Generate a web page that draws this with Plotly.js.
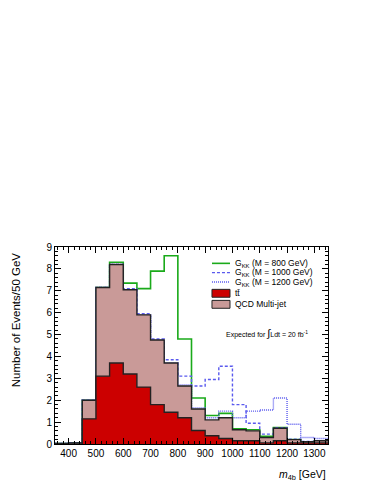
<!DOCTYPE html>
<html>
<head>
<meta charset="utf-8">
<script src="https://cdn.plot.ly/plotly-3.0.1.min.js"></script>
<style>
  html, body { margin: 0; padding: 0; background: #fff; }
  #plot { width: 374px; height: 484px; }
</style>
</head>
<body>
<div id="plot"></div>
<script>
// bin edges, 50 GeV wide
var binEdges = [350, 400, 450, 500, 550, 600, 650, 700, 750, 800, 850, 900, 950, 1000, 1050, 1100, 1150, 1200, 1250, 1300, 1350];

// ttbar (bottom of the stack)
var ttbar = [0, 0, 1.15, 3.1, 3.7, 3.2, 2.6, 1.8, 1.45, 1.2, 0.62, 0.38, 0.25, 0.15, 0.15, 0.05, 0.15, 0.05, 0.05, 0.05];
// total background = ttbar + QCD multi-jet
var totalBkg = [0.02, 0.05, 2.0, 7.15, 8.2, 7.05, 5.9, 4.75, 3.7, 2.65, 1.6, 1.1, 1.2, 0.65, 0.6, 0.3, 0.72, 0.2, 0.1, 0.15];

// signal + background
var gkk800 = [0.02, 0.05, 2.0, 7.15, 8.3, 7.35, 7.1, 7.9, 8.6, 4.8, 2.1, 1.3, 1.4, 0.7, 0.65, 0.35, 0.75, 0.2, 0.1, 0.15];
var gkk1000 = [0.02, 0.05, 2.0, 7.15, 8.2, 7.1, 5.95, 4.8, 3.85, 3.1, 2.65, 2.95, 3.55, 1.8, 0.95, 0.45, 0.75, 0.22, 0.12, 0.15];
var gkk1200 = [0.02, 0.05, 2.0, 7.15, 8.2, 7.05, 5.9, 4.75, 3.7, 2.7, 1.65, 1.2, 1.5, 1.2, 1.5, 1.55, 2.1, 0.9, 0.3, 0.25];

var legendNames = ["G<sub>KK</sub> (M = 800 GeV)", "G<sub>KK</sub> (M = 1000 GeV)", "G<sub>KK</sub> (M = 1200 GeV)", "t\u0074\u0304", "QCD Multi-jet"];

function stepY(vals) { return vals.concat([vals[vals.length - 1]]); }

var fnt = "Liberation Sans, Arial, sans-serif";
var green = "#1aaa1a", blue = "#5a5aee", red = "#cc0000", pink = "#c99a98";

var data = [
  {x: binEdges, y: stepY(gkk800), type: "scatter", mode: "lines", line: {shape: "hv", color: green, width: 1.6}, name: legendNames[0]},
  {x: binEdges, y: stepY(gkk1000), type: "scatter", mode: "lines", line: {shape: "hv", color: blue, width: 1.4, dash: "3px,2px"}, name: legendNames[1]},
  {x: binEdges, y: stepY(gkk1200), type: "scatter", mode: "lines", line: {shape: "hv", color: blue, width: 1.4, dash: "1px,1px"}, name: legendNames[2]},
  {x: binEdges, y: stepY(totalBkg), type: "scatter", mode: "lines", line: {shape: "hv", color: "#222", width: 1.4},
   fill: "tozeroy", fillcolor: pink, name: legendNames[4]},
  {x: binEdges, y: stepY(ttbar), type: "scatter", mode: "lines", line: {shape: "hv", color: "#222", width: 1.4},
   fill: "tozeroy", fillcolor: red, name: legendNames[3]}
];

// compact legend drawn by hand (plotly's legend rows are too tall here)
var rowY = [0.917, 0.870, 0.822, 0.765, 0.709];
var sx0 = 0.575, sx1 = 0.641, tx = 0.652;
var shapes = [
  {type: "line", xref: "paper", yref: "paper", x0: sx0, x1: sx1, y0: rowY[0], y1: rowY[0], line: {color: green, width: 1.6}},
  {type: "line", xref: "paper", yref: "paper", x0: sx0, x1: sx1, y0: rowY[1], y1: rowY[1], line: {color: blue, width: 1.4, dash: "3px,2px"}},
  {type: "line", xref: "paper", yref: "paper", x0: sx0, x1: sx1, y0: rowY[2], y1: rowY[2], line: {color: blue, width: 1.4, dash: "1px,1px"}},
  {type: "rect", xref: "paper", yref: "paper", x0: sx0, x1: sx1, y0: rowY[3] - 0.02, y1: rowY[3] + 0.02, fillcolor: red, line: {color: "#222", width: 1}},
  {type: "rect", xref: "paper", yref: "paper", x0: sx0, x1: sx1, y0: rowY[4] - 0.02, y1: rowY[4] + 0.02, fillcolor: pink, line: {color: "#222", width: 1}}
];

var annotations = [
  {xref: "paper", yref: "paper", x: 1, y: -0.11, xanchor: "right", yanchor: "top", showarrow: false,
   text: "<i>m</i><sub>4b</sub> [GeV]", font: {size: 10.5}},
  {xref: "paper", yref: "paper", x: -0.14, y: 0.985, xanchor: "center", yanchor: "top", showarrow: false,
   textangle: -90, text: "Number of Events/50 GeV", font: {size: 11.5}},
  {xref: "paper", yref: "paper", x: 0.935, y: 0.563, xanchor: "right", yanchor: "middle", showarrow: false,
   text: "Expected for <span style='font-size:11px'>\u222B</span>Ldt = 20 fb<sup>-1</sup>", font: {size: 7}}
];
legendNames.forEach(function (name, i) {
  annotations.push({xref: "paper", yref: "paper", x: tx, y: rowY[i], xanchor: "left", yanchor: "middle",
                    showarrow: false, text: name, font: {size: 8.5}});
});

var layout = {
  width: 374, height: 484,
  margin: {l: 55, r: 46, t: 247, b: 40},
  paper_bgcolor: "#fff", plot_bgcolor: "#fff",
  font: {family: fnt, size: 10, color: "#000"},
  showlegend: false,
  xaxis: {range: [350, 1350], tickvals: [400, 500, 600, 700, 800, 900, 1000, 1100, 1200, 1300],
          ticks: "inside", ticklen: 6, tickcolor: "#000", showline: true, linecolor: "#000", linewidth: 1,
          mirror: "allticks", showgrid: false, zeroline: false, tickfont: {size: 10},
          minor: {dtick: 20, ticks: "inside", ticklen: 3, tickcolor: "#000"}},
  yaxis: {range: [0, 9], dtick: 1, ticks: "inside", ticklen: 6, tickcolor: "#000", showline: true,
          linecolor: "#000", linewidth: 1, mirror: "allticks", showgrid: false, zeroline: false,
          tickfont: {size: 10}, minor: {dtick: 0.2, ticks: "inside", ticklen: 3, tickcolor: "#000"}},
  shapes: shapes,
  annotations: annotations
};

Plotly.newPlot("plot", data, layout, {displayModeBar: false, staticPlot: true});
</script>
</body>
</html>
